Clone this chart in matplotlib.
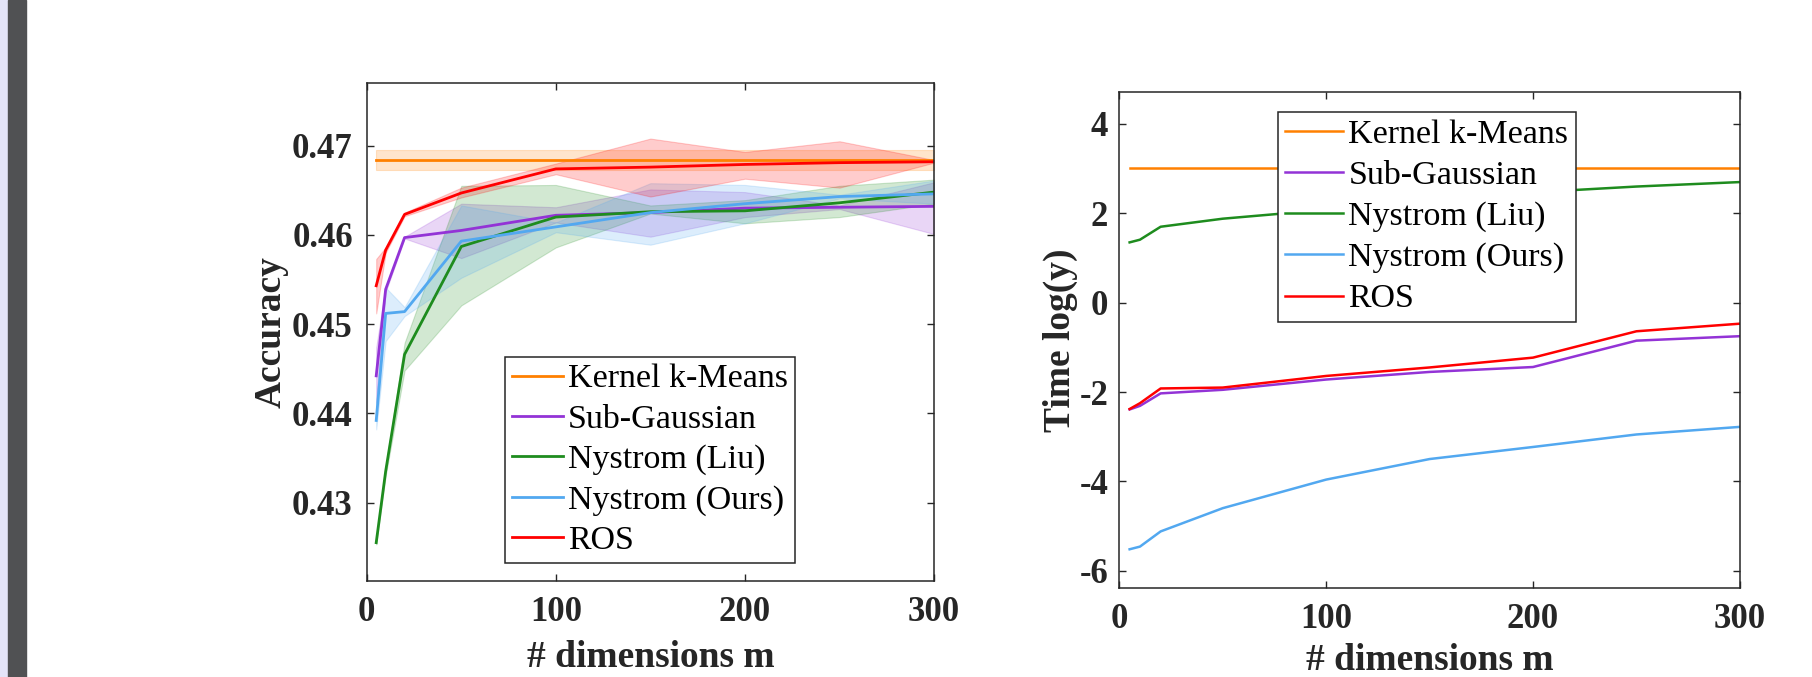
import numpy as np
import matplotlib
matplotlib.use('Agg')
import matplotlib.pyplot as plt
from matplotlib.patches import Rectangle

plt.rcParams['font.family'] = ['Liberation Serif', 'DejaVu Serif']
plt.rcParams['axes.unicode_minus'] = False

# number of dimensions
m = [5, 10, 20, 50, 100, 150, 200, 250, 300]

# accuracy (left panel), mean and lower / upper band
kkm_acc = [0.4684, 0.4684, 0.4684, 0.4684, 0.4684, 0.4684, 0.4684, 0.4684, 0.4684]
kkm_lo = [0.4673, 0.4673, 0.4673, 0.4673, 0.4673, 0.4673, 0.4673, 0.4673, 0.4673]
kkm_hi = [0.4695, 0.4695, 0.4695, 0.4695, 0.4695, 0.4695, 0.4695, 0.4695, 0.4695]

sub_acc = [0.4442, 0.4539, 0.4597, 0.4605, 0.4622, 0.4625, 0.4630, 0.4631, 0.4632]
sub_lo = [0.4412, 0.4536, 0.4596, 0.4574, 0.4614, 0.4598, 0.4620, 0.4629, 0.4601]
sub_hi = [0.4474, 0.4542, 0.4598, 0.4635, 0.4631, 0.4651, 0.4648, 0.4633, 0.4659]

liu_acc = [0.4255, 0.4335, 0.4466, 0.4587, 0.4620, 0.4626, 0.4627, 0.4636, 0.4648]
liu_lo = [0.4253, 0.4330, 0.4448, 0.4521, 0.4586, 0.4624, 0.4613, 0.4620, 0.4635]
liu_hi = [0.4257, 0.4340, 0.4479, 0.4655, 0.4656, 0.4633, 0.4639, 0.4655, 0.4662]

ours_acc = [0.4392, 0.4512, 0.4514, 0.4593, 0.4609, 0.4625, 0.4635, 0.4643, 0.4646]
ours_lo = [0.4382, 0.4481, 0.4509, 0.4552, 0.4603, 0.4589, 0.4613, 0.4641, 0.4635]
ours_hi = [0.4414, 0.4541, 0.4519, 0.4633, 0.4614, 0.4658, 0.4656, 0.4645, 0.4661]

ros_acc = [0.4543, 0.4583, 0.4623, 0.4647, 0.4674, 0.4676, 0.4679, 0.4681, 0.4682]
ros_lo = [0.4512, 0.4580, 0.4621, 0.4642, 0.4668, 0.4643, 0.4663, 0.4653, 0.4681]
ros_hi = [0.4573, 0.4586, 0.4625, 0.4653, 0.4680, 0.4708, 0.4693, 0.4705, 0.4684]

# time log(y) (right panel)
kkm_time = [3.02, 3.02, 3.02, 3.02, 3.02, 3.02, 3.02, 3.02, 3.02]
sub_time = [-2.39, -2.31, -2.03, -1.95, -1.72, -1.55, -1.44, -0.85, -0.75]
liu_time = [1.35, 1.41, 1.70, 1.88, 2.08, 2.28, 2.47, 2.60, 2.70]
ours_time = [-5.52, -5.46, -5.12, -4.60, -3.96, -3.50, -3.23, -2.95, -2.78]
ros_time = [-2.38, -2.25, -1.92, -1.90, -1.64, -1.45, -1.23, -0.64, -0.47]

labels = ['Kernel k-Means', 'Sub-Gaussian', 'Nystrom (Liu)', 'Nystrom (Ours)', 'ROS']
colors = ['#FF8000', '#9333D6', '#1E8C1E', '#52A8F0', '#FF0000']

axcol = '#262626'

fig = plt.figure(figsize=(18.12, 6.77), dpi=100)
# strip at the left edge of the screenshot
fig.patches.append(Rectangle((0, 0), 8 / 1812, 1, transform=fig.transFigure, color='#E4E4F8', zorder=0))
fig.patches.append(Rectangle((8 / 1812, 0), 18 / 1812, 1, transform=fig.transFigure, color='#505153', zorder=0))

ax1 = fig.add_axes([0.2024, 0.1418, 0.3131, 0.7352])
ax2 = fig.add_axes([0.6177, 0.1319, 0.3425, 0.7318])


def style_axes(ax, ypad):
	for s in ax.spines.values():
		s.set_color(axcol)
		s.set_linewidth(1.1)
	ax.tick_params(direction='in', top=True, right=True, length=5, width=1.0, color=axcol, labelcolor=axcol)
	ax.tick_params(axis='x', pad=11)
	ax.tick_params(axis='y', pad=ypad)
	for t in ax.get_xticklabels() + ax.get_yticklabels():
		t.set_fontsize(25)
		t.set_fontweight('bold')


# left: accuracy with bands
acc = [kkm_acc, sub_acc, liu_acc, ours_acc, ros_acc]
lo = [kkm_lo, sub_lo, liu_lo, ours_lo, ros_lo]
hi = [kkm_hi, sub_hi, liu_hi, ours_hi, ros_hi]
for i in range(5):
	ax1.fill_between(m, lo[i], hi[i], color=colors[i], alpha=0.2, linewidth=0.8)
for i in range(5):
	ax1.plot(m, acc[i], color=colors[i], lw=2.0, label=labels[i])

ax1.set_xlim(0, 300)
ax1.set_ylim(0.4212, 0.4770)
ax1.set_xticks([0, 100, 200, 300])
ax1.set_yticks([0.43, 0.44, 0.45, 0.46, 0.47])
ax1.set_yticklabels(['0.43', '0.44', '0.45', '0.46', '0.47'])
style_axes(ax1, 10)
ax1.set_xlabel('# dimensions m', fontsize=27, fontweight='bold', color=axcol)
ax1.set_ylabel('Accuracy', fontsize=27, fontweight='bold', color=axcol)
ax1.xaxis.set_label_coords(0.5, -0.153)
ax1.yaxis.set_label_coords(-0.169, 0.5)
ax1.xaxis.label.set_va('center')
ax1.yaxis.label.set_va('center')

leg1 = ax1.legend(loc='lower left', bbox_to_anchor=(0.244, 0.036), borderaxespad=0, fontsize=24.5,
	handlelength=1.5, handletextpad=0.15, labelspacing=0.28, borderpad=0.2, fancybox=False, framealpha=1)
leg1.get_frame().set_edgecolor(axcol)
leg1.get_frame().set_linewidth(1.1)

# right: running time
tm = [kkm_time, sub_time, liu_time, ours_time, ros_time]
for i in range(5):
	ax2.plot(m, tm[i], color=colors[i], lw=1.8, label=labels[i])

ax2.set_xlim(0, 300)
ax2.set_ylim(-6.38, 4.71)
ax2.set_xticks([0, 100, 200, 300])
ax2.set_yticks([-6, -4, -2, 0, 2, 4])
style_axes(ax2, 8)
ax2.set_xlabel('# dimensions m', fontsize=27, fontweight='bold', color=axcol)
ax2.set_ylabel('Time log(y)', fontsize=27, fontweight='bold', color=axcol)
ax2.xaxis.set_label_coords(0.5, -0.147)
ax2.yaxis.set_label_coords(-0.0955, 0.5)
ax2.xaxis.label.set_va('center')
ax2.yaxis.label.set_va('center')

leg2 = ax2.legend(loc='upper left', bbox_to_anchor=(0.2557, 0.961), borderaxespad=0, fontsize=24.5,
	handlelength=1.7, handletextpad=0.15, labelspacing=0.3, borderpad=0.22, fancybox=False, framealpha=1)
leg2.get_frame().set_edgecolor(axcol)
leg2.get_frame().set_linewidth(1.1)

fig.savefig('out.png', dpi=100)
